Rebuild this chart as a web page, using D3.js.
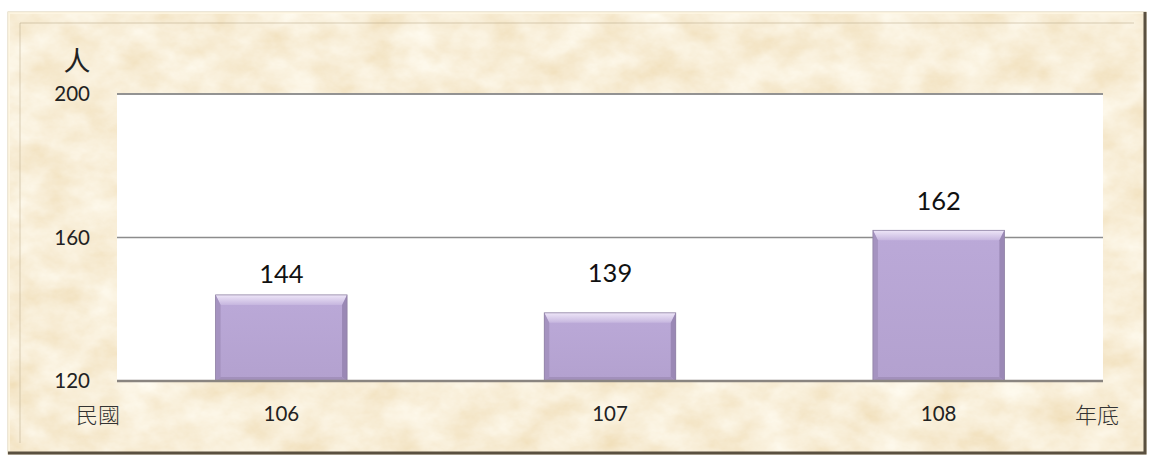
<!DOCTYPE html>
<html><head><meta charset="utf-8">
<script src="https://cdn.jsdelivr.net/npm/d3@7"></script>
<style>html,body{margin:0;padding:0;background:#fff;}svg{display:block;}</style>
</head><body>
<svg id="c" width="1149" height="457"></svg>
<script>
const categories = ["106", "107", "108"];
const values = [144, 139, 162];
const yTicks = [120, 160, 200];
const yUnit = "人";
const xPrefix = "民國";
const xSuffix = "年底";
const labelNudge = [12, 31, 20];

const svg = d3.select("#c");
const plot = {l: 117, r: 1103, t: 94, b: 381};

const defs = svg.append("defs");
const f = defs.append("filter").attr("id","parch").attr("x",0).attr("y",0).attr("width","100%").attr("height","100%");
f.append("feTurbulence").attr("type","fractalNoise").attr("baseFrequency","0.025 0.035").attr("numOctaves",5).attr("seed",7).attr("result","n");
f.append("feColorMatrix").attr("in","n").attr("type","matrix")
 .attr("values","0.14 0 0 0 0.87  0.27 0 0 0 0.72  0.45 0 0 0 0.46  0 0 0 0 1");
const lg = defs.append("linearGradient").attr("id","barg").attr("x1",0).attr("x2",0).attr("y1",0).attr("y2",1);
lg.append("stop").attr("offset","0").attr("stop-color","#bba9d8");
lg.append("stop").attr("offset","1").attr("stop-color","#b3a1cf");
const tg = defs.append("linearGradient").attr("id","topg").attr("x1",0).attr("x2",0).attr("y1",0).attr("y2",1);
tg.append("stop").attr("offset","0").attr("stop-color","#eee6f8");
tg.append("stop").attr("offset","1").attr("stop-color","#c6b6df");

// frame
svg.append("rect").attr("x",8).attr("y",12).attr("width",1138).attr("height",442).attr("filter","url(#parch)");
svg.append("rect").attr("x",8).attr("y",12).attr("width",1138).attr("height",442).attr("fill","none").attr("stroke","#d9cdb0").attr("stroke-width",1);
svg.append("path").attr("d","M9,454 L9,13 L1145,13").attr("fill","none").attr("stroke","#fff8e6").attr("stroke-width",2).attr("opacity",0.7);
svg.append("path").attr("d","M20,443 L20,23 L1134,23").attr("fill","none").attr("stroke","#b3a383").attr("stroke-width",1).attr("opacity",0.5);
svg.append("path").attr("d","M8,453 L1145,453 L1145,12").attr("fill","none").attr("stroke","#5a5040").attr("stroke-width",3);

const x = d3.scaleBand().domain(categories).range([plot.l, plot.r]).paddingInner(0.6).paddingOuter(0.3);
const y = d3.scaleLinear().domain([120, 200]).range([plot.b, plot.t]);

svg.append("rect").attr("x",plot.l).attr("y",plot.t).attr("width",plot.r-plot.l).attr("height",plot.b-plot.t).attr("fill","#fff");

// gridlines
svg.append("g").selectAll("line").data(yTicks.filter(d=>d>120)).join("line")
 .attr("x1",plot.l).attr("x2",plot.r).attr("y1",d=>y(d)).attr("y2",d=>y(d))
 .attr("stroke","#8c8c8c").attr("stroke-width",1.3);

// bars with bevel
const g = svg.append("g");
categories.forEach((c,i)=>{
  const x0 = x(c), w = x.bandwidth(), y0 = y(values[i]), y1 = y(120), h = y1-y0;
  const bg = g.append("g");
  bg.append("rect").attr("x",x0).attr("y",y0).attr("width",w).attr("height",h).attr("fill","url(#barg)");
  const bt = 10, bs = 5, bb = 4;
  bg.append("path").attr("d",`M${x0},${y0} L${x0+w},${y0} L${x0+w-bs},${y0+bt} L${x0+bs},${y0+bt} Z`).attr("fill","url(#topg)");
  bg.append("path").attr("d",`M${x0},${y0} L${x0+bs},${y0+bt} L${x0+bs},${y1-bb} L${x0},${y1} Z`).attr("fill","#a593c0");
  bg.append("path").attr("d",`M${x0+w},${y0} L${x0+w-bs},${y0+bt} L${x0+w-bs},${y1-bb} L${x0+w},${y1} Z`).attr("fill","#9a88b5");
  bg.append("path").attr("d",`M${x0},${y1} L${x0+bs},${y1-bb} L${x0+w-bs},${y1-bb} L${x0+w},${y1} Z`).attr("fill","#a290bb");
  bg.append("rect").attr("x",x0).attr("y",y0).attr("width",w).attr("height",h).attr("fill","none").attr("stroke","#8f82a3").attr("stroke-width",0.8);
  g.append("text").attr("x",x0+w/2).attr("y",y0-labelNudge[i]).attr("text-anchor","middle")
   .attr("font-family","Lato, 'Open Sans', sans-serif").attr("font-size",25.5).attr("fill","#111").text(values[i]);
});

// top border & baseline
svg.append("line").attr("x1",plot.l).attr("x2",plot.r).attr("y1",plot.t).attr("y2",plot.t).attr("stroke","#8c8c8c").attr("stroke-width",1.3);
svg.append("line").attr("x1",plot.l).attr("x2",plot.r).attr("y1",plot.b).attr("y2",plot.b).attr("stroke","#8a8580").attr("stroke-width",2.5);

// y axis labels
const yAxis = d3.axisLeft(y).tickValues(yTicks).tickSize(0).tickPadding(27);
const ya = svg.append("g").attr("transform",`translate(${plot.l},0)`).call(yAxis);
ya.select(".domain").remove();
ya.selectAll("text").attr("font-family","Lato, 'Open Sans', sans-serif").attr("font-size",20.5).attr("fill","#222");

// x axis labels
const xAxis = d3.axisBottom(x).tickSize(0).tickPadding(25);
const xa = svg.append("g").attr("transform",`translate(0,${plot.b})`).call(xAxis);
xa.select(".domain").remove();
xa.selectAll("text").attr("font-family","Lato, 'Open Sans', sans-serif").attr("font-size",20.5).attr("fill","#222");

const cjk = "'Noto Sans CJK TC', 'Noto Sans CJK SC', sans-serif";
svg.append("text").attr("x",77).attr("y",71).attr("text-anchor","middle").attr("font-family",cjk).attr("font-size",27).attr("fill","#222").text(yUnit);
svg.append("text").attr("x",98).attr("y",423).attr("text-anchor","middle").attr("font-family",cjk).attr("font-size",22).attr("font-weight",300).attr("fill","#333").text(xPrefix);
svg.append("text").attr("x",1097).attr("y",423).attr("text-anchor","middle").attr("font-family",cjk).attr("font-size",22).attr("font-weight",300).attr("fill","#333").text(xSuffix);
</script>
</body></html>
